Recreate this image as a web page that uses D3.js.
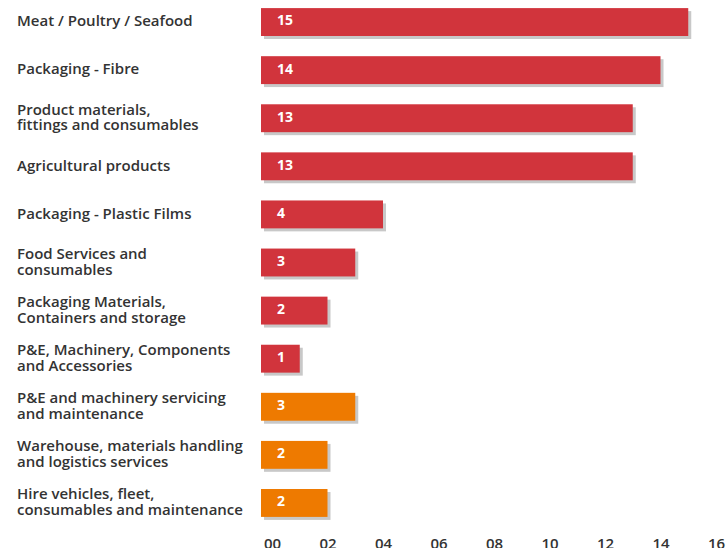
<!DOCTYPE html>
<html><head><meta charset="utf-8">
<script src="https://cdn.jsdelivr.net/npm/d3@7"></script>
<style>body{margin:0;background:#fff}svg{display:block}</style>
</head><body>
<script>
const categories = [
  ["Meat / Poultry / Seafood"],
  ["Packaging - Fibre"],
  ["Product materials,", "fittings and consumables"],
  ["Agricultural products"],
  ["Packaging - Plastic Films"],
  ["Food Services and", "consumables"],
  ["Packaging Materials,", "Containers and storage"],
  ["P&E, Machinery, Components", "and Accessories"],
  ["P&E and machinery servicing", "and maintenance"],
  ["Warehouse, materials handling", "and logistics services"],
  ["Hire vehicles, fleet,", "consumables and maintenance"]
];
const values = [15, 14, 13, 13, 4, 3, 2, 1, 3, 2, 2];
const groups = ["a","a","a","a","a","a","a","a","b","b","b"];
const tickValues = [0, 2, 4, 6, 8, 10, 12, 14, 16];
const tickLabels = ["00","02","04","06","08","10","12","14","16"];

const W = 726, H = 548;
const color = {a: "#d1343c", b: "#ee7a00"};
const svg = d3.select("body").append("svg").attr("width", W).attr("height", H);
const x = d3.scaleLinear().domain([0, 16]).range([272, 716]);
const y = d3.scaleBand().domain(d3.range(values.length)).range([-2, 527]).paddingInner(0.42).paddingOuter(0.21);
const font = "'Open Sans', Lato, sans-serif";
const lead = 11;

const g = svg.append("g");
const rows = g.selectAll("g.row").data(values).join("g").attr("class","row");
rows.append("rect")
  .attr("x", x(0) - lead + 3).attr("y", (d,i) => y(i) + 3)
  .attr("width", d => x(d) - x(0) + lead).attr("height", y.bandwidth())
  .attr("fill", "#c8c8c8");
rows.append("rect")
  .attr("x", x(0) - lead).attr("y", (d,i) => y(i))
  .attr("width", d => x(d) - x(0) + lead).attr("height", y.bandwidth())
  .attr("fill", (d,i) => color[groups[i]]);
rows.append("text")
  .attr("x", x(0) + 5).attr("y", (d,i) => y(i) + y.bandwidth()/2 - 1.5)
  .attr("dy", "0.35em").attr("fill", "#fff")
  .attr("font-family", font).attr("font-weight", 700).attr("font-size", 14)
  .text(d => d);

const lab = g.selectAll("text.cat").data(categories).join("text").attr("class","cat")
  .attr("font-family", font).attr("font-weight", 600).attr("font-size", 15)
  .attr("fill", "#333");
lab.each(function(lines, i) {
  const cy = y(i) + y.bandwidth()/2 - 1;
  const n = lines.length;
  d3.select(this).selectAll("tspan").data(lines).join("tspan")
    .attr("x", 17)
    .attr("y", (l, k) => cy + (k - (n-1)/2) * 15.5)
    .attr("dy", "0.35em")
    .text(l => l);
});

const axis = d3.axisBottom(x).tickValues(tickValues).tickFormat((d,i) => tickLabels[i]).tickSize(0).tickPadding(0);
const ax = svg.append("g").attr("transform", "translate(0,538)").call(axis);
ax.select(".domain").remove();
ax.selectAll("text").attr("font-family", font).attr("font-weight", 600).attr("font-size", 15).attr("fill", "#333");
</script>
</body></html>
